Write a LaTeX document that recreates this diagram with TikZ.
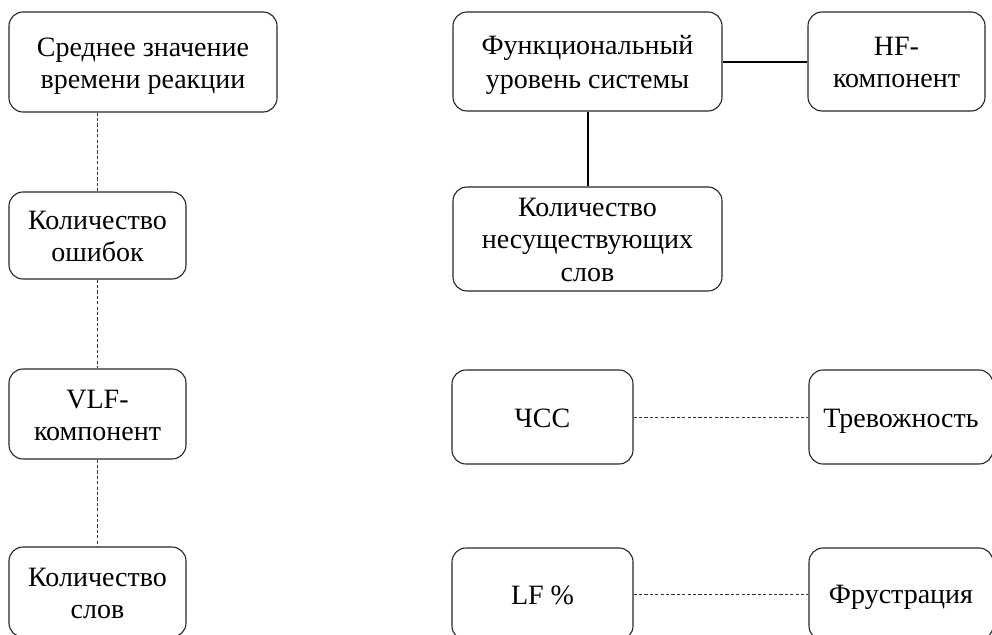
\documentclass[tikz,border=0pt]{standalone}
\usepackage{fontspec}
\setmainfont{Liberation Serif}
\newcommand{\myline}[1]{\rule[-6pt]{0pt}{32pt}#1}
\begin{document}
\begin{tikzpicture}[x=1pt,y=-1pt,
  box/.style={draw=black!85,line width=1.1pt,rounded corners=14pt,align=center,
    inner sep=0pt,font=\fontsize{28}{32}\selectfont,text=black},
  solidlink/.style={draw=black,line width=2pt},
  dashlink/.style={draw=black!80,line width=0.8pt,dash pattern=on 3.2pt off 2.2pt}]
\useasboundingbox (0,0) rectangle (992,634);
\node[box,minimum width=268pt,minimum height=100pt] (n1) at (143,62) {\myline{Среднее значение}\\\myline{времени реакции}};
\node[box,minimum width=177pt,minimum height=87pt] (n2) at (97.5,235.5) {\myline{Количество}\\\myline{ошибок}};
\node[box,minimum width=177pt,minimum height=90pt] (n3) at (97.5,414) {\myline{VLF-}\\\myline{компонент}};
\node[box,minimum width=177pt,minimum height=90pt] (n4) at (97.5,592) {\myline{Количество}\\\myline{слов}};
\node[box,minimum width=269pt,minimum height=99pt] (f) at (587.5,61.5) {\myline{Функциональный}\\\myline{уровень системы}};
\node[box,minimum width=177pt,minimum height=99pt] (hf) at (896.5,61.5) {\myline{HF-}\\\myline{компонент}};
\node[box,minimum width=269pt,minimum height=104pt] (kn) at (587.5,239) {\myline{Количество}\\\myline{несуществующих}\\\myline{слов}};
\node[box,minimum width=181pt,minimum height=94pt] (hr) at (542.5,417) {\myline{ЧСС}};
\node[box,minimum width=184pt,minimum height=94pt] (tr) at (901,417) {\myline{Тревожность}};
\node[box,minimum width=181pt,minimum height=92pt] (lf) at (542.5,594) {\myline{LF \%}};
\node[box,minimum width=184pt,minimum height=92pt] (fr) at (901,594) {\myline{Фрустрация}};
\draw[dashlink] (n2.north |- n1.south) -- (n2.north);
\draw[dashlink] (n2.south) -- (n3.north);
\draw[dashlink] (n3.south) -- (n4.north);
\draw[solidlink] (f.east) -- (hf.west);
\draw[solidlink] (f.south) -- (kn.north);
\draw[dashlink] (hr.east) -- (tr.west);
\draw[dashlink] (lf.east) -- (fr.west);
\end{tikzpicture}
\end{document}
